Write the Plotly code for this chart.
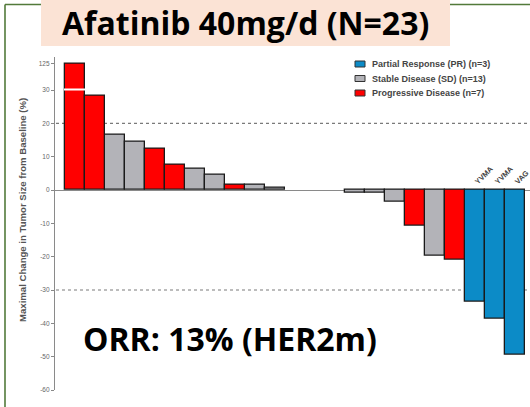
import plotly.graph_objects as go

W, H = 530, 407

# Best overall response per patient, sorted as a waterfall
response = ["PD", "PD", "SD", "SD", "PD", "PD", "SD", "SD", "PD", "SD", "SD", "SD",
            "SD", "SD", "SD", "SD", "SD", "PD", "SD", "PD", "PR", "PR", "PR"]
change = [125, 28.3, 16.5, 14.5, 12.5, 7.5, 6.5, 4.5, 1.6, 1.6, 0.7, 0, 0, 0,
          -0.8, -0.8, -3.6, -10.7, -19.8, -20.8, -33.5, -38.5, -49.3]
mutation = {20: "YVMA", 21: "YVMA", 22: "VAG"}

groups = [
    ("PR", "Partial Response (PR) (n=3)", "#0C8BC7"),
    ("SD", "Stable Disease (SD) (n=13)", "#B3B3B8"),
    ("PD", "Progressive Disease (n=7)", "#FF0000"),
]

tick_values = [125, 30, 20, 10, 0, -10, -20, -30, -40, -50, -60]
BREAK = 30.0

BIG_FONT = "Open Sans, sans-serif"


def brk(v):
    """Broken y scale: values above 30 are compressed into a short segment."""
    return v if v <= BREAK else BREAK + (v - BREAK) * 8.0 / 95.0


def px_x(p):
    return p / W


def px_y(p):
    return 1 - p / H


fig = go.Figure()
for code, name, color in groups:
    idx = [i for i, r in enumerate(response) if r == code]
    vals = [change[i] for i in idx]
    fig.add_trace(go.Bar(
        x=idx, y=[brk(v) for v in vals], name=name, width=1, showlegend=False,
        marker=dict(color=color,
                    line=dict(color="#1a1a1a",
                              width=[0 if v == 0 else 1.3 for v in vals])),
        customdata=vals, hovertemplate="%{customdata}%<extra></extra>",
    ))

shapes = [
    # reference lines at +20% and -30%
    dict(type="line", xref="paper", yref="y", x0=px_x(56), x1=1, y0=20, y1=20,
         line=dict(color="#7a7a7a", width=1.1, dash="dot"), layer="below"),
    dict(type="line", xref="paper", yref="y", x0=px_x(56), x1=1, y0=-30, y1=-30,
         line=dict(color="#7a7a7a", width=1.1, dash="dot"), layer="below"),
    # axis break marker across the truncated bar
    dict(type="line", xref="x", yref="y", x0=-0.55, x1=0.5, y0=brk(BREAK) + 0.15,
         y1=brk(BREAK) + 0.15, line=dict(color="white", width=2)),
    # green slide frame
    dict(type="line", xref="paper", yref="paper", x0=px_x(5), x1=px_x(5),
         y0=0, y1=px_y(4.5), line=dict(color="#527A3A", width=1.6)),
    dict(type="line", xref="paper", yref="paper", x0=px_x(5), x1=1,
         y0=px_y(4.5), y1=px_y(4.5), line=dict(color="#527A3A", width=1.6)),
    # title banner
    dict(type="rect", xref="paper", yref="paper", x0=px_x(41), x1=px_x(450),
         y0=px_y(46), y1=1, fillcolor="#FBE3D5", line=dict(width=0)),
]

annotations = [
    dict(text="Afatinib 40mg/d (N=23)", xref="paper", yref="paper",
         x=px_x(245), y=px_y(22), xanchor="center", yanchor="middle",
         showarrow=False,
         font=dict(family=BIG_FONT, size=32, color="black", weight="bold")),
    dict(text="ORR: 13% (HER2m)", xref="paper", yref="paper",
         x=px_x(230), y=px_y(338), xanchor="center", yanchor="middle",
         showarrow=False,
         font=dict(family=BIG_FONT, size=32, color="black", weight="bold")),
    dict(text="Maximal Change in Tumor Size from Baseline (%)", xref="paper",
         yref="paper", x=px_x(22), y=px_y(210), xanchor="center",
         yanchor="middle", showarrow=False, textangle=-90,
         font=dict(family="Liberation Sans", size=9.6, color="#555555",
                   weight="bold")),
]
for i, lab in mutation.items():
    annotations.append(dict(
        text=lab, x=i - 0.25, y=0.3, xref="x", yref="y",
        showarrow=False, textangle=-45, xanchor="left", yanchor="bottom",
        font=dict(family="Liberation Sans", size=7.5, color="#444444",
                  weight="bold")))

# legend key, drawn as swatches with labels
for k, (code, name, color) in enumerate(groups):
    yc = 64 + 14.5 * k
    shapes.append(dict(type="rect", xref="paper", yref="paper",
                       x0=px_x(355), x1=px_x(365), y0=px_y(yc + 3),
                       y1=px_y(yc - 3), fillcolor=color,
                       line=dict(color="#333333", width=1)))
    annotations.append(dict(text=name, xref="paper", yref="paper",
                            x=px_x(370), y=px_y(yc), xanchor="left",
                            yanchor="middle", showarrow=False,
                            font=dict(family="Liberation Sans", size=9,
                                      color="#444444", weight="bold")))

fig.update_layout(
    width=W, height=H, margin=dict(l=0, r=0, t=0, b=0, autoexpand=False),
    paper_bgcolor="white", plot_bgcolor="white",
    barmode="overlay", bargap=0, showlegend=False,
    xaxis=dict(domain=[px_x(55), 1], range=[-1, 22.75], showticklabels=False,
               showgrid=False, zeroline=False, showline=False, ticks=""),
    yaxis=dict(domain=[px_y(390), px_y(56.7)], range=[-60, 40],
               tickvals=[brk(v) for v in tick_values],
               ticktext=[str(v) for v in tick_values],
               ticks="outside", ticklen=3, tickcolor="#888888", tickwidth=1,
               showline=True, linecolor="#8a8a8a", linewidth=1.2,
               showgrid=False, zeroline=True, zerolinecolor="#8a8a8a",
               zerolinewidth=1,
               tickfont=dict(family="Liberation Sans", size=6.5, color="#666666")),
    shapes=shapes, annotations=annotations,
)

fig.write_html("out.html")
